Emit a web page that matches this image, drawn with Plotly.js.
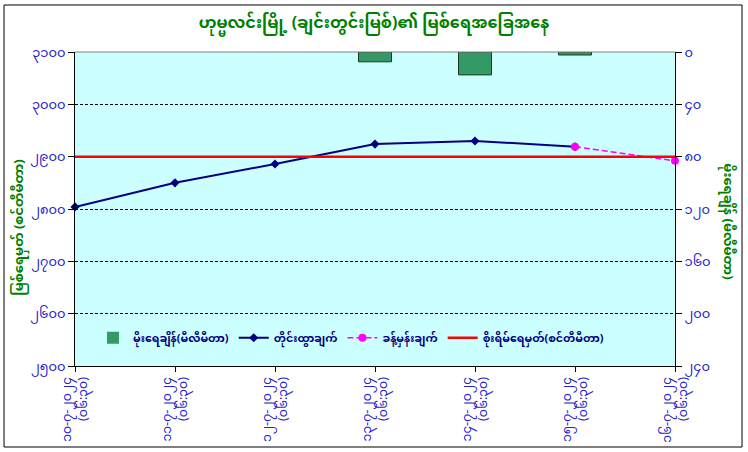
<!DOCTYPE html>
<html>
<head>
<meta charset="utf-8">
<script src="https://cdn.plot.ly/plotly-3.0.1.min.js"></script>
<style>
  html, body { margin: 0; padding: 0; background: #fff; }
  #graph { width: 748px; height: 452px; }
</style>
</head>
<body>
<div id="graph"></div>
<script>
// category positions (days) and their two-line labels
const dayIndex = [0, 1, 2, 3, 4, 5, 6];
const dateLabels = [
    '၁၀-၇-၂၀၂၄<br>(၀၆:၃၀)',
    '၁၁-၇-၂၀၂၄<br>(၀၆:၃၀)',
    '၁၂-၇-၂၀၂၄<br>(၀၆:၃၀)',
    '၁၃-၇-၂၀၂၄<br>(၀၆:၃၀)',
    '၁၄-၇-၂၀၂၄<br>(၀၆:၃၀)',
    '၁၅-၇-၂၀၂၄<br>(၀၆:၃၀)',
    '၁၆-၇-၂၀၂၄<br>(၀၆:၃၀)'
];

// series values
const rainfallMm = [0, 0, 0, 7.5, 17.5, 2.3, 0];
const observedCm = [2804, 2850, 2886, 2924, 2930, 2919, null];
const forecastCm = [null, null, null, null, null, 2919, 2892];
const dangerCm = [2900, 2900, 2900, 2900, 2900, 2900, 2900];

// axis ticks
const levelTicks = [2500, 2600, 2700, 2800, 2900, 3000, 3100];
const levelTickText = ['၂၅၀၀', '၂၆၀၀', '၂၇၀၀', '၂၈၀၀', '၂၉၀၀', '၃၀၀၀', '၃၁၀၀'];
const rainTicks = [0, 40, 80, 120, 160, 200, 240];
const rainTickText = ['၀', '၄၀', '၈၀', '၁၂၀', '၁၆၀', '၂၀၀', '၂၄၀'];

const myFont = 'Noto Sans Myanmar, Padauk, Myanmar Text, Noto Sans, sans-serif';
const tickBlue = '#2222CC';
const green = '#008000';

const rainTrace = {
    x: dayIndex,
    y: rainfallMm,
    yaxis: 'y2',
    type: 'bar',
    name: 'မိုးရေချိန်(မီလီမီတာ)',
    width: 0.33,
    marker: {
        color: '#339966',
        // no outline on dry days, so nothing shows at the top edge
        line: { color: '#1a3a1a', width: rainfallMm.map(v => (v > 0 ? 1 : 0)) },
    },
    hoverinfo: 'y',
};

const observedTrace = {
    x: dayIndex,
    y: observedCm,
    mode: 'lines+markers',
    name: 'တိုင်းထွာချက်',
    line: { color: '#000080', width: 2 },
    marker: { symbol: 'diamond', size: 7, color: '#000080' },
    cliponaxis: false,
};

const forecastTrace = {
    x: dayIndex,
    y: forecastCm,
    mode: 'lines+markers',
    name: 'ခန့်မှန်းချက်',
    line: { color: '#FF00FF', width: 1.5, dash: '6px,3px' },
    marker: { symbol: 'circle', size: 8, color: '#FF00FF' },
    cliponaxis: false,
};

const dangerTrace = {
    x: dayIndex,
    y: dangerCm,
    mode: 'lines',
    name: 'စိုးရိမ်ရေမှတ်(စင်တီမီတာ)',
    line: { color: '#FF0000', width: 2.5 },
};

const layout = {
    width: 748,
    height: 452,
    margin: { l: 75, r: 73, t: 52, b: 86 },
    paper_bgcolor: '#ffffff',
    plot_bgcolor: '#CCFFFF',
    font: { family: myFont, color: tickBlue },
    showlegend: true,
    title: {
        text: '<b>ဟုမ္မလင်းမြို့ (ချင်းတွင်းမြစ်)၏ မြစ်ရေအခြေအနေ</b>',
        font: { family: myFont, size: 16, color: green },
        x: 0.5,
        xanchor: 'center',
        y: 0.95,
        yanchor: 'middle',
    },
    xaxis: {
        range: [0, 6],
        tickmode: 'array',
        tickvals: dayIndex,
        ticktext: dateLabels,
        tickangle: -90,
        tickfont: { family: myFont, size: 12.5, color: tickBlue },
        ticks: 'outside',
        ticklen: 5,
        tickcolor: '#000',
        showline: true,
        linecolor: '#000',
        linewidth: 1,
        showgrid: false,
        zeroline: false,
        fixedrange: true,
    },
    yaxis: {
        range: [2500, 3100],
        tickmode: 'array',
        tickvals: levelTicks,
        ticktext: levelTickText,
        tickfont: { family: myFont, size: 13, color: tickBlue },
        ticks: 'outside',
        ticklen: 6,
        tickcolor: '#000',
        showline: true,
        linecolor: '#000',
        linewidth: 1,
        showgrid: true,
        gridcolor: '#000',
        gridwidth: 1,
        griddash: '3px,2px',
        zeroline: false,
    },
    yaxis2: {
        overlaying: 'y',
        side: 'right',
        range: [240, 0],
        tickmode: 'array',
        tickvals: rainTicks,
        ticktext: rainTickText,
        tickfont: { family: myFont, size: 13, color: tickBlue },
        ticks: 'outside',
        ticklen: 6,
        tickcolor: '#000',
        showline: true,
        linecolor: '#000',
        linewidth: 1,
        showgrid: false,
        zeroline: false,
    },
    legend: {
        orientation: 'h',
        x: 0.46,
        xanchor: 'center',
        y: 0.09,
        yanchor: 'middle',
        bgcolor: 'rgba(0,0,0,0)',
        font: { family: myFont, size: 11, color: '#000080', weight: 'bold' },
        itemwidth: 30,
        traceorder: 'normal',
    },
    annotations: [
        {
            // left axis title, reading bottom to top
            text: '<b>မြစ်ရေမှတ် (စင်တီမီတာ)</b>',
            xref: 'paper', yref: 'paper',
            x: -0.092, y: 0.44,
            xanchor: 'center', yanchor: 'middle',
            textangle: -90,
            showarrow: false,
            font: { family: myFont, size: 13, color: green },
        },
        {
            // right axis title, reading top to bottom
            text: '<b>မိုးရေချိန် (မီလီမီတာ)</b>',
            xref: 'paper', yref: 'paper',
            x: 1.087, y: 0.46,
            xanchor: 'center', yanchor: 'middle',
            textangle: 90,
            showarrow: false,
            font: { family: myFont, size: 13, color: green },
        },
    ],
    shapes: [
        // top border of the plot area
        { type: 'line', xref: 'paper', yref: 'paper', x0: 0, x1: 1, y0: 1, y1: 1,
          line: { color: '#808080', width: 1 } },
        // outer chart border
        { type: 'rect', xref: 'paper', yref: 'paper', x0: -0.1183, x1: 1.1117, y0: -0.258, y1: 1.1497,
          line: { color: '#000', width: 1 }, layer: 'below' },
    ],
};

const config = { displayModeBar: false, staticPlot: true };

Plotly.newPlot('graph', [rainTrace, observedTrace, forecastTrace, dangerTrace], layout, config);
</script>
</body>
</html>
